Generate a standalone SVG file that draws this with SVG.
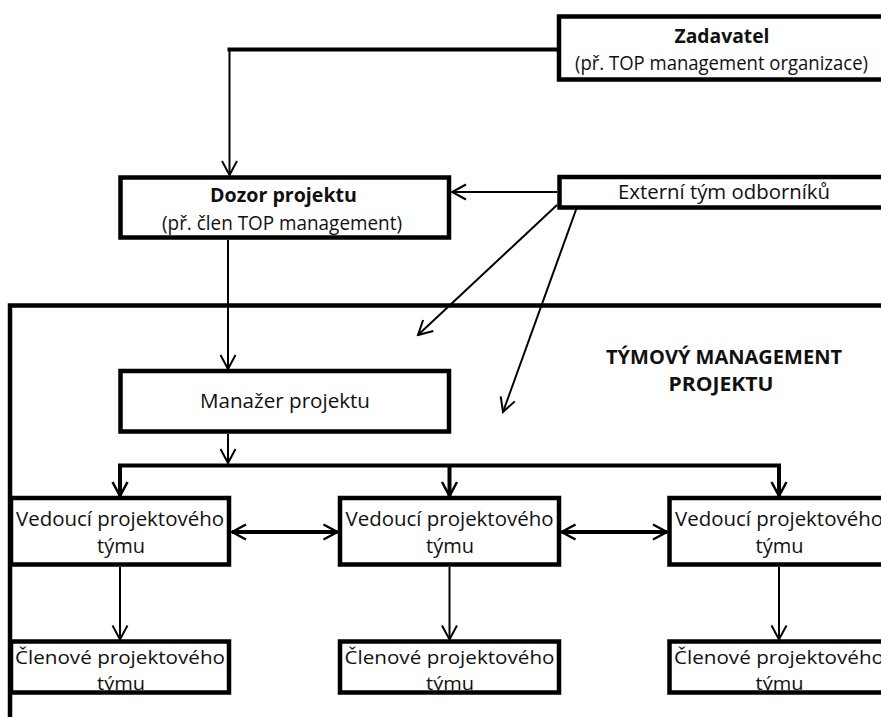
<svg xmlns="http://www.w3.org/2000/svg" width="881" height="717" viewBox="0 0 881 717">
  <style>
    .box { fill: #fff; stroke: #000; stroke-width: 4.5; }
    .frame { fill: none; stroke: #000; stroke-width: 4.5; }
    .t { font-family: "Open Sans", "Noto Sans", sans-serif; font-size: 20px; fill: #111; text-anchor: middle; }
    .s { font-size: 19px; }
    .b { font-weight: bold; }
    .thin { fill: none; stroke: #000; stroke-width: 2; }
    .thick { fill: none; stroke: #000; stroke-width: 4; }
  </style>
  <defs>
    <marker id="arr" viewBox="-17 -10 19 20" refX="0" refY="0" markerWidth="19" markerHeight="20" markerUnits="userSpaceOnUse" orient="auto-start-reverse">
      <path d="M -14 -7.5 L 0 0 L -14 7.5" fill="none" stroke="#000" stroke-width="2"/>
    </marker>
    <marker id="arrB" viewBox="-17 -10 19 20" refX="0" refY="0" markerWidth="19" markerHeight="20" markerUnits="userSpaceOnUse" orient="auto-start-reverse">
      <path d="M -14 -7.5 L 0 0 L -14 7.5" fill="none" stroke="#000" stroke-width="2.5"/>
    </marker>
  </defs>

  <!-- team management frame (runs off the right and bottom edges) -->
  <g id="team-frame">
    <rect class="frame" x="10" y="305.5" width="900" height="450"/>
    <text class="t b" x="724" y="364" textLength="236" lengthAdjust="spacingAndGlyphs">TÝMOVÝ MANAGEMENT</text>
    <text class="t b" x="721" y="391" textLength="105" lengthAdjust="spacingAndGlyphs">PROJEKTU</text>
  </g>

  <g id="connectors">
    <!-- sponsor to supervision -->
    <line class="thick" x1="557" y1="49.5" x2="227.5" y2="49.5"/>
    <line class="thin" x1="229.5" y1="49.5" x2="229.5" y2="175" marker-end="url(#arr)"/>
    <!-- external experts -->
    <line class="thin" x1="557" y1="192" x2="452" y2="192" marker-end="url(#arr)"/>
    <line class="thin" x1="557" y1="205" x2="418" y2="335" marker-end="url(#arr)"/>
    <line class="thin" x1="577" y1="207" x2="503" y2="412" marker-end="url(#arr)"/>
    <!-- supervision to project manager -->
    <line class="thin" x1="228" y1="240" x2="228" y2="369" marker-end="url(#arr)"/>
    <!-- project manager to team leads -->
    <line class="thin" x1="228" y1="434" x2="228" y2="463" marker-end="url(#arr)"/>
    <line class="thick" x1="118" y1="465.5" x2="781" y2="465.5"/>
    <line class="thick" x1="120" y1="465.5" x2="120" y2="496" marker-end="url(#arrB)"/>
    <line class="thick" x1="449.5" y1="465.5" x2="449.5" y2="496" marker-end="url(#arrB)"/>
    <line class="thick" x1="779" y1="465.5" x2="779" y2="496" marker-end="url(#arrB)"/>
    <!-- leads talk to each other -->
    <line class="thick" x1="232" y1="532" x2="337.5" y2="532" marker-start="url(#arrB)" marker-end="url(#arrB)"/>
    <line class="thick" x1="561.5" y1="532" x2="667" y2="532" marker-start="url(#arrB)" marker-end="url(#arrB)"/>
    <!-- leads to members -->
    <line class="thin" x1="120" y1="567" x2="120" y2="639.5" marker-end="url(#arr)"/>
    <line class="thin" x1="449.5" y1="567" x2="449.5" y2="639.5" marker-end="url(#arr)"/>
    <line class="thin" x1="779" y1="567" x2="779" y2="639.5" marker-end="url(#arr)"/>
  </g>

  <g id="zadavatel">
    <rect class="box" x="559" y="16.5" width="326" height="63"/>
    <text class="t b" x="722" y="43" textLength="95" lengthAdjust="spacingAndGlyphs">Zadavatel</text>
    <text class="t" x="721.5" y="70" textLength="293" lengthAdjust="spacingAndGlyphs">(př. TOP management organizace)</text>
  </g>

  <g id="dozor">
    <rect class="box" x="120.5" y="177.5" width="328.5" height="60"/>
    <text class="t b" x="283.5" y="202" textLength="147" lengthAdjust="spacingAndGlyphs">Dozor projektu</text>
    <text class="t" x="282" y="230" textLength="240" lengthAdjust="spacingAndGlyphs">(př. člen TOP management)</text>
  </g>

  <g id="externi">
    <rect class="box" x="559.5" y="177" width="330" height="30.5"/>
    <text class="t" x="724" y="198.5" textLength="212" lengthAdjust="spacingAndGlyphs">Externí tým odborníků</text>
  </g>

  <g id="manazer">
    <rect class="box" x="120.5" y="371" width="328.5" height="60.5"/>
    <text class="t" x="285" y="407.5" textLength="170" lengthAdjust="spacingAndGlyphs">Manažer projektu</text>
  </g>

  <g id="vedouci-1">
    <rect class="box" x="11" y="498" width="218" height="66.5"/>
    <text class="t" x="120" y="526" textLength="208" lengthAdjust="spacingAndGlyphs">Vedoucí projektového</text>
    <text class="t" x="121" y="553" textLength="48" lengthAdjust="spacingAndGlyphs">týmu</text>
  </g>
  <g id="vedouci-2">
    <rect class="box" x="340" y="498" width="219" height="66.5"/>
    <text class="t" x="449.5" y="526" textLength="208" lengthAdjust="spacingAndGlyphs">Vedoucí projektového</text>
    <text class="t" x="450" y="553" textLength="48" lengthAdjust="spacingAndGlyphs">týmu</text>
  </g>
  <g id="vedouci-3">
    <rect class="box" x="669.5" y="498" width="219" height="66.5"/>
    <text class="t" x="779" y="526" textLength="208" lengthAdjust="spacingAndGlyphs">Vedoucí projektového</text>
    <text class="t" x="779.5" y="553" textLength="48" lengthAdjust="spacingAndGlyphs">týmu</text>
  </g>

  <g id="clenove-1">
    <rect class="box" x="11" y="641.5" width="218" height="51"/>
    <text class="t s" x="120" y="664" textLength="210" lengthAdjust="spacingAndGlyphs">Členové projektového</text>
    <text class="t s" x="121" y="690" textLength="48" lengthAdjust="spacingAndGlyphs">týmu</text>
  </g>
  <g id="clenove-2">
    <rect class="box" x="340" y="641.5" width="219" height="51"/>
    <text class="t s" x="449.5" y="664" textLength="210" lengthAdjust="spacingAndGlyphs">Členové projektového</text>
    <text class="t s" x="450" y="690" textLength="48" lengthAdjust="spacingAndGlyphs">týmu</text>
  </g>
  <g id="clenove-3">
    <rect class="box" x="669.5" y="641.5" width="219" height="51"/>
    <text class="t s" x="779" y="664" textLength="210" lengthAdjust="spacingAndGlyphs">Členové projektového</text>
    <text class="t s" x="779.5" y="690" textLength="48" lengthAdjust="spacingAndGlyphs">týmu</text>
  </g>
</svg>
